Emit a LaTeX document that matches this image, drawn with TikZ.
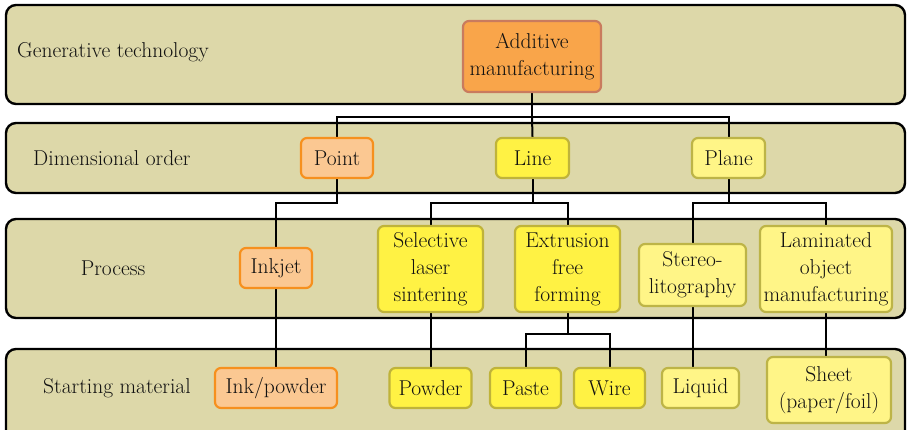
\documentclass[tikz,border=0pt]{standalone}
\definecolor{bandfill}{HTML}{DDD8A9}
\definecolor{addfill}{HTML}{F9A54A}
\definecolor{adddraw}{HTML}{C97B5E}
\definecolor{orfill}{HTML}{FBC892}
\definecolor{ordraw}{HTML}{F6901E}
\definecolor{yefill}{HTML}{FFF244}
\definecolor{yedraw}{HTML}{BFB33A}
\definecolor{lyfill}{HTML}{FFF587}
\definecolor{lydraw}{HTML}{BDB447}
\definecolor{txt}{HTML}{111111}
\pgfdeclarelayer{bands}
\pgfdeclarelayer{lines}
\pgfsetlayers{bands,lines,main}
\tikzset{
  band/.style={draw=black, line width=2.4pt, fill=bandfill, rounded corners=10pt},
  box/.style={rounded corners=6pt, line width=2.2pt, align=center, inner sep=0pt,
    font=\fontsize{21.5}{27}\selectfont, text=txt},
  addbox/.style={box, fill=addfill, draw=adddraw},
  orbox/.style={box, fill=orfill, draw=ordraw},
  yebox/.style={box, fill=yefill, draw=yedraw},
  lybox/.style={box, fill=lyfill, draw=lydraw},
  rowlabel/.style={anchor=west, inner sep=0pt, font=\fontsize{21.5}{27}\selectfont, text=txt},
  conn/.style={draw=black, line width=2pt},
}
\begin{document}
\begin{tikzpicture}[x=1pt, y={(0pt,-1pt)}]
\useasboundingbox (0,0) rectangle (907,430);
\clip (0,0) rectangle (907,430);
\begin{pgfonlayer}{bands}
  \fill[white] (0,0) rectangle (907,430);
  \draw[band] (6,5) rectangle (905,104);
  \draw[band] (6,123) rectangle (905,193);
  \draw[band] (6,219) rectangle (905,318);
  \draw[band] (6,349) rectangle (905,450);
\end{pgfonlayer}

% row labels
\node[rowlabel] (lgen) at (17,52) {Generative technology};
\node[rowlabel] (ldim) at (33,158) {Dimensional order};
\node[rowlabel, anchor=center] (lproc) at (113,268) {Process};
\node[rowlabel] (lstart) at (43,388) {Starting material};

% boxes
\node[addbox, minimum width=138pt, minimum height=71pt] (add) at (532,56.5) {Additive\\manufacturing};
\node[orbox, minimum width=72pt, minimum height=40pt] (point) at (337,158) {Point};
\node[yebox, minimum width=73pt, minimum height=40pt] (line) at (532.5,158) {Line};
\node[lybox, minimum width=73pt, minimum height=40pt] (plane) at (728.5,158) {Plane};

\node[orbox, minimum width=72pt, minimum height=40pt] (inkjet) at (276,268) {Inkjet};
\node[yebox, minimum width=105pt, minimum height=86pt] (sls) at (430.5,269) {Selective\\laser\\sintering};
\node[yebox, minimum width=105pt, minimum height=86pt] (ext) at (567.5,269) {Extrusion\\free\\forming};
\node[lybox, minimum width=107pt, minimum height=62pt] (stereo) at (692.5,275) {Stereo-\\litography};
\node[lybox, minimum width=132pt, minimum height=86pt] (lom) at (826,269) {Laminated\\object\\manufacturing};

\node[orbox, minimum width=122pt, minimum height=40pt] (inkp) at (276,388) {Ink/powder};
\node[yebox, minimum width=82pt, minimum height=40pt] (powder) at (430.5,388) {Powder};
\node[yebox, minimum width=71pt, minimum height=40pt] (paste) at (525.5,388) {Paste};
\node[yebox, minimum width=71pt, minimum height=40pt] (wire) at (609.5,388) {Wire};
\node[lybox, minimum width=77pt, minimum height=40pt] (liquid) at (700.5,388) {Liquid};
\node[lybox, minimum width=124pt, minimum height=66pt] (sheet) at (829,390) {Sheet\\(paper/foil)};

\begin{pgfonlayer}{lines}
  \coordinate (b1) at (532,117);
  \draw[conn] (add.south) -- (b1);
  \draw[conn] (point.north) |- (b1) -| (plane.north);
  \draw[conn] (b1) -- (line.north);
  \draw[conn] (point.south) -- ++(0,24) -| (inkjet.north);
  \draw[conn] (line.south) -- ++(0,24) coordinate (b2);
  \draw[conn] (sls.north) |- (b2) -| (ext.north);
  \draw[conn] (plane.south) -- ++(0,24) coordinate (b3);
  \draw[conn] (stereo.north) |- (b3) -| (lom.north);
  \draw[conn] (inkjet.south) -- (inkp.north);
  \draw[conn] (sls.south) -- (powder.north);
  \draw[conn] (ext.south) -- ++(0,21) coordinate (b4);
  \draw[conn] (paste.north) |- (b4) -| (wire.north);
  \draw[conn] (stereo.south) -- (stereo.south |- liquid.north);
  \draw[conn] (lom.south) -- (lom.south |- sheet.north);
\end{pgfonlayer}
\end{tikzpicture}
\end{document}
